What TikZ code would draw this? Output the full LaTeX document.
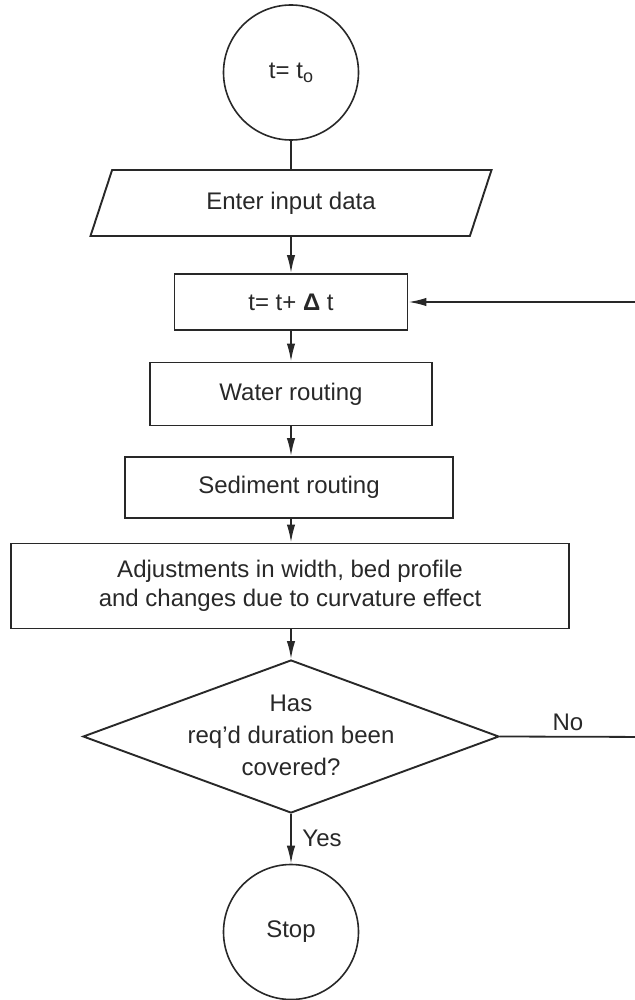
\documentclass[tikz,border=0pt]{standalone}
\usepackage{fontspec}
\setmainfont{Liberation Sans}
\usetikzlibrary{shapes.geometric,arrows.meta,calc}
\definecolor{ink}{RGB}{40,40,40}
\begin{document}
\begin{tikzpicture}[x=1pt,y=-1pt,
  txt/.style={text=ink,font=\fontsize{24}{29}\selectfont},
  box/.style={txt,draw=ink,line width=1.9pt,rectangle,inner sep=0pt},
  term/.style={txt,draw=ink,line width=1.6pt,circle,minimum size=135pt,inner sep=0pt},
  io/.style={txt,draw=ink,line width=1.9pt,trapezium,trapezium left angle=46,trapezium right angle=134,trapezium stretches body=true,inner sep=0pt},
  decision/.style={draw=ink,line width=1.9pt,diamond,inner sep=0pt},
  plainline/.style={draw=ink,line width=1.8pt},
  flow/.style={draw=ink,line width=1.8pt,-{Latex[length=18pt,width=8.5pt]}}]
\useasboundingbox (0,0) rectangle (634,1000);
\node[term] (start) at (291,72.5) {t= t\raisebox{-4pt}{\fontsize{18}{18}\selectfont o}};
\node[io,minimum width=401pt,minimum height=66pt] (input) at (291,203) {Enter input data};
\node[box,minimum width=233pt,minimum height=56pt] (step) at (291,302) {t= t+ \textbf{Δ} t};
\node[box,minimum width=282pt,minimum height=63pt] (water) at (291,394) {Water routing};
\node[box,minimum width=328pt,minimum height=61pt] (sed) at (289,487.5) {Sediment routing};
\node[box,minimum width=558pt,minimum height=85pt,align=center] (adj) at (290,586) {Adjustments in width, bed profile\\and changes due to curvature effect};
\node[decision,minimum width=416pt,minimum height=153pt] (dec) at (291,736.5) {};
\node[txt,align=center,font=\fontsize{24}{32}\selectfont] (dtext) at (291,735) {Has\\req'd duration been\\covered?};
\node[term] (stop) at (291,932) {Stop};
\node[txt] (no) at (568,722) {No};
\node[txt] (yes) at (322,838) {Yes};
\coordinate (loop) at (660,737);
\draw[plainline] (start.south) -- (input.north);
\draw[flow] (input.south) -- (step.north);
\draw[flow] (step.south) -- (water.north);
\draw[flow] (water.south) -- (water.south |- sed.north);
\draw[flow] (water.south |- sed.south) -- (water.south |- adj.north);
\draw[flow] (adj.south -| dec.north) -- (dec.north);
\draw[flow] (dec.south) -- (stop.north);
\draw[flow] (dec.east) -- (loop) |- (step.east);
\end{tikzpicture}
\end{document}
